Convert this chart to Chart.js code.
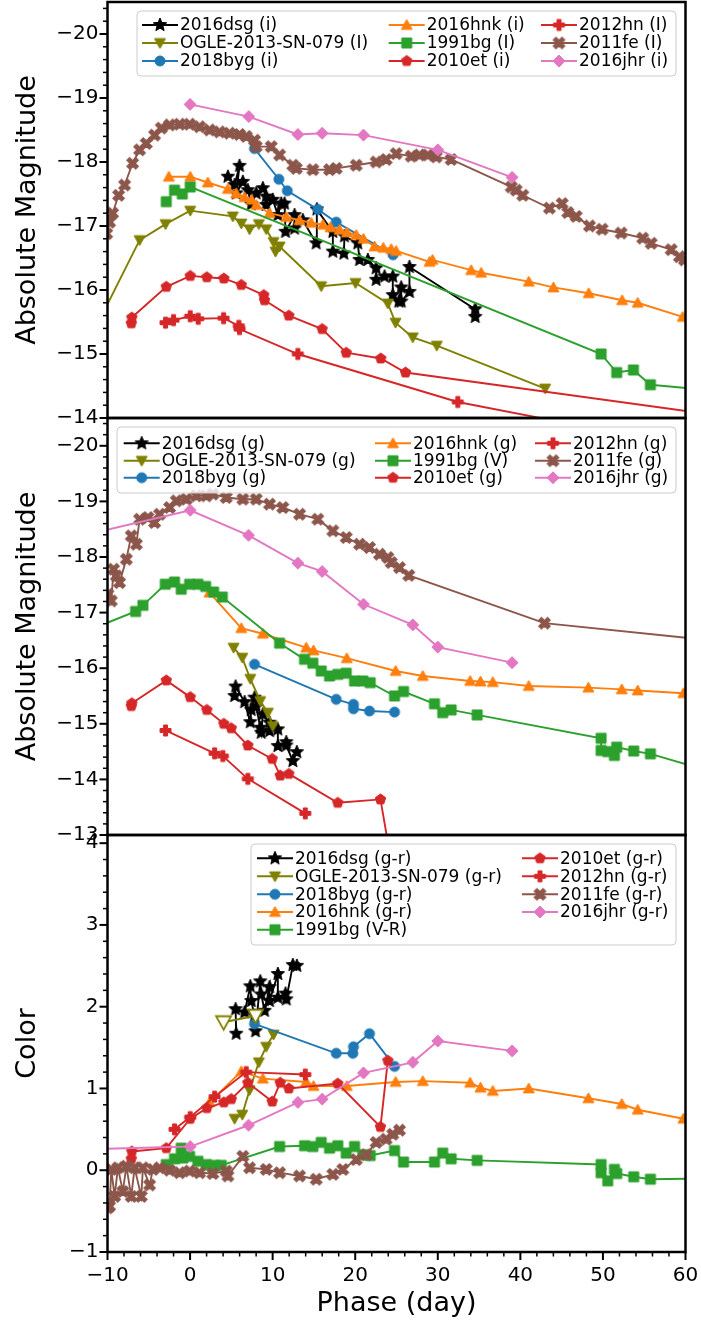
<!DOCTYPE html>
<html>
<head>
<meta charset="utf-8">
<script src="https://cdn.jsdelivr.net/npm/chart.js"></script>
<style>
  body { margin: 0; background: #fff; }
  #wrap { position: relative; width: 701px; height: 1324px; }
  #wrap canvas { position: absolute; left: 0; top: 0; }
</style>
</head>
<body>
<div id="wrap">
  <canvas id="iband" width="701" height="1324"></canvas>
  <canvas id="gband" width="701" height="1324"></canvas>
  <canvas id="color" width="701" height="1324"></canvas>
</div>
<script>
// ---- axis ticks ----
const phaseTicks = [-10, 0, 10, 20, 30, 40, 50, 60];
const magTicksI = [-20, -19, -18, -17, -16, -15, -14];
const magTicksG = [-20, -19, -18, -17, -16, -15, -14, -13];
const colorTicks = [4, 3, 2, 1, 0, -1];

// ---- i / I band light curves [phase, abs mag] ----
const dsg_i = [[4.58,-17.77],[5.39,-17.64],[5.99,-17.94],[5.59,-17.51],[6.39,-17.69],[7.0,-17.56],[7.41,-17.34],[8.01,-17.51],[8.81,-17.59],[9.22,-17.46],[9.22,-17.33],[10.02,-17.41],[10.63,-17.17],[11.04,-17.35],[11.44,-17.35],[11.56,-16.91],[12.65,-17.17],[12.65,-16.96],[13.66,-17.09],[15.28,-16.73],[15.35,-17.26],[17.29,-16.91],[17.29,-16.6],[18.62,-16.57],[18.7,-16.84],[20.31,-16.73],[20.52,-16.47],[21.53,-16.47],[22.54,-16.34],[22.54,-16.16],[23.55,-16.21],[24.55,-16.21],[24.55,-15.92],[25.28,-15.82],[25.57,-16.04],[25.57,-15.82],[26.57,-15.97],[26.57,-16.36],[34.53,-15.7],[34.53,-15.58]];
const ogle_I = [[-11,-15.52],[-6.11,-16.78],[-2.97,-17.03],[0.02,-17.24],[5.18,-17.15],[6.2,-17.04],[7.2,-16.95],[8.33,-17.03],[9.22,-16.95],[10.11,-16.75],[10.35,-16.6],[10.84,-16.68],[15.88,-16.06],[20.04,-16.11],[23.95,-15.79],[24.88,-15.49],[26.97,-15.26],[29.88,-15.13],[43.0,-14.46]];
const byg_i = [[7.8,-18.21],[10.75,-17.73],[11.77,-17.55],[15.47,-17.26],[17.7,-17.06],[24.58,-16.55]];
const hnk_i = [[-2.57,-17.77],[0.02,-17.77],[2.15,-17.68],[4.58,-17.58],[5.59,-17.51],[6.6,-17.45],[7.45,-17.41],[8.01,-17.33],[9.62,-17.2],[11.65,-17.14],[13.26,-17.09],[14.67,-17.05],[16.08,-17.02],[17.0,-16.98],[18.1,-16.94],[19.0,-16.9],[20.12,-16.86],[21.0,-16.8],[22.34,-16.68],[23.4,-16.66],[24.36,-16.64],[24.96,-16.61],[29.0,-16.44],[29.36,-16.47],[34.04,-16.31],[35.25,-16.27],[41.02,-16.13],[44.0,-16.04],[48.28,-15.95],[52.32,-15.84],[54.21,-15.8],[59.66,-15.58]];
const bg_I = [[-2.88,-17.38],[-1.88,-17.56],[-0.94,-17.5],[0.02,-17.61],[49.78,-15.0],[51.67,-14.71],[53.69,-14.75],[55.75,-14.52],[64,-14.42]];
const et_i = [[-7.12,-15.48],[-7.05,-15.57],[-2.88,-16.05],[0.02,-16.22],[2.03,-16.2],[4.09,-16.18],[6.2,-16.08],[8.93,-15.92],[9.02,-15.84],[11.96,-15.6],[16.0,-15.39],[18.91,-15.02],[23.1,-14.93],[26.09,-14.71],[68,-13.97]];
const hn_I = [[-2.97,-15.49],[-2.0,-15.53],[0.02,-15.59],[0.99,-15.55],[4.06,-15.56],[5.91,-15.44],[5.99,-15.39],[13.05,-15.0],[32.42,-14.25],[50,-13.81]];
const fe_I = [[-10.1,-16.88],[-9.75,-17.06],[-9.38,-17.2],[-8.66,-17.48],[-7.93,-17.64],[-6.96,-17.98],[-6.11,-18.19],[-5.3,-18.29],[-4.3,-18.42],[-3.49,-18.53],[-2.48,-18.58],[-1.27,-18.59],[-0.06,-18.59],[1.15,-18.55],[2.36,-18.5],[3.57,-18.47],[4.78,-18.45],[5.99,-18.43],[6.8,-18.4],[7.81,-18.34],[8.01,-18.24],[9.83,-18.24],[10.84,-18.11],[12.45,-17.95],[12.86,-17.9],[14.87,-17.88],[16.89,-17.88],[17.7,-17.9],[20.12,-17.95],[22.54,-18.0],[23.75,-18.04],[24.96,-18.13],[26.78,-18.09],[27.78,-18.11],[28.79,-18.11],[29.81,-18.08],[31.62,-18.04],[38.89,-17.61],[39.49,-17.56],[40.29,-17.48],[43.52,-17.28],[45.06,-17.35],[45.74,-17.21],[46.76,-17.15],[48.37,-17.0],[49.9,-16.95],[52.2,-16.89],[54.82,-16.81],[55.84,-16.73],[58.26,-16.63],[59.26,-16.52],[59.87,-16.47]];
const jhr_i = [[0,-18.9],[7.1,-18.71],[13.05,-18.43],[16.0,-18.45],[21.0,-18.42],[30.0,-18.19],[39.0,-17.76]];

// ---- g / V band light curves ----
const dsg_g = [[5.39,-15.5],[5.51,-15.67],[6.6,-15.39],[7.29,-15.03],[7.41,-15.25],[7.81,-15.47],[8.01,-15.31],[8.5,-14.93],[8.62,-14.84],[8.81,-15.17],[9.62,-15.02],[9.62,-14.87],[10.63,-14.9],[10.63,-14.6],[11.65,-14.67],[11.65,-14.61],[12.45,-14.33],[12.93,-14.49]];
const ogle_g = [[5.27,-16.37],[6.32,-16.19],[7.29,-15.81],[8.5,-15.41],[9.42,-15.2],[10.02,-14.96]];
const byg_g = [[7.81,-16.07],[17.7,-15.44],[19.79,-15.35],[19.79,-15.27],[21.73,-15.23],[24.76,-15.21]];
const hnk_g = [[2.36,-17.36],[6.2,-16.72],[8.81,-16.62],[14.07,-16.37],[14.95,-16.32],[18.98,-16.18],[24.9,-15.95],[28.18,-15.86],[33.92,-15.77],[35.17,-15.76],[36.66,-15.75],[41.02,-15.68],[48.24,-15.65],[52.28,-15.62],[54.21,-15.6],[59.75,-15.55]];
const bg_V = [[-12,-16.7],[-6.6,-17.02],[-5.71,-17.13],[-3.0,-17.51],[-1.88,-17.55],[-1.07,-17.42],[-0.06,-17.51],[0.94,-17.51],[1.88,-17.47],[2.85,-17.37],[3.9,-17.28],[10.84,-16.45],[13.86,-16.16],[14.87,-16.09],[15.88,-15.95],[16.89,-15.86],[17.89,-15.89],[18.91,-15.91],[19.92,-15.77],[20.92,-15.77],[21.82,-15.74],[24.76,-15.5],[25.85,-15.58],[29.6,-15.36],[30.6,-15.2],[31.62,-15.25],[34.77,-15.16],[49.78,-14.74],[49.78,-14.52],[50.58,-14.5],[51.39,-14.43],[51.67,-14.58],[53.73,-14.51],[55.75,-14.46],[64,-14.1]];
const et_g = [[-7.12,-15.32],[-7.05,-15.37],[-2.88,-15.78],[0.02,-15.48],[2.03,-15.25],[4.09,-15.0],[4.99,-14.92],[7.0,-14.61],[9.95,-14.37],[10.92,-14.07],[11.96,-14.1],[17.89,-13.58],[23.06,-13.64],[25.0,-11.97]];
const hn_g = [[-2.97,-14.88],[2.97,-14.47],[3.97,-14.42],[7.0,-14.01],[13.95,-13.39]];
const fe_g = [[-9.95,-17.33],[-9.54,-17.21],[-9.26,-17.78],[-8.93,-17.66],[-8.54,-17.54],[-7.72,-17.96],[-7.12,-18.38],[-6.51,-18.23],[-6.11,-18.68],[-5.11,-18.71],[-4.3,-18.62],[-3.69,-18.77],[-2.48,-18.89],[-1.67,-19.01],[-0.46,-19.04],[0.75,-19.1],[1.96,-19.1],[2.76,-19.13],[4.38,-19.07],[6.39,-19.04],[8.01,-19.04],[9.62,-18.95],[11.23,-18.89],[13.26,-18.77],[15.47,-18.68],[17.29,-18.47],[18.91,-18.35],[20.52,-18.23],[21.73,-18.17],[22.94,-18.05],[23.95,-17.99],[24.36,-17.9],[25.36,-17.81],[26.49,-17.67],[42.92,-16.81],[75,-16.32]];
const jhr_g = [[-15,-18.32],[0.02,-18.84],[7.08,-18.39],[13.05,-17.89],[16.0,-17.74],[21.0,-17.15],[26.97,-16.78],[30.0,-16.38],[39.0,-16.1]];

// ---- colours ----
const dsg_gr = [[5.59,1.67],[5.51,1.97],[6.6,1.93],[7.29,2.25],[7.41,2.07],[7.81,1.89],[7.93,1.7],[8.5,2.31],[8.62,2.15],[9.02,1.95],[9.62,2.24],[9.62,2.07],[10.63,2.4],[10.63,2.11],[11.56,2.16],[11.65,2.09],[12.45,2.51],[12.93,2.5]];
const ogle_gr = [[5.39,0.63],[6.32,0.68],[7.2,0.98],[8.33,1.32],[9.22,1.51],[10.11,1.66]];
const ogle_gr_early = [[4.06,1.81],[7.93,1.89]];
const byg_gr = [[7.81,1.79],[17.7,1.43],[19.71,1.43],[19.79,1.51],[21.73,1.67],[24.76,1.27]];
const hnk_gr = [[2.36,0.83],[6.2,1.21],[8.81,1.12],[14.07,1.08],[14.95,1.03],[18.98,1.03],[24.9,1.08],[28.18,1.09],[33.92,1.07],[35.17,1.01],[36.66,0.97],[41.02,1.0],[48.24,0.88],[52.28,0.81],[54.21,0.74],[59.75,0.63]];
const bg_VR = [[-2.88,0.07],[-1.88,0.14],[-1.07,0.27],[-0.87,0.15],[-0.06,0.17],[0.94,0.11],[1.96,0.07],[2.97,0.06],[3.78,0.06],[10.84,0.29],[13.86,0.3],[14.87,0.29],[15.88,0.34],[16.89,0.27],[17.89,0.3],[18.91,0.21],[19.92,0.29],[20.92,0.19],[21.82,0.18],[24.76,0.24],[25.85,0.1],[29.6,0.1],[30.6,0.21],[31.62,0.14],[34.77,0.12],[49.78,0.07],[49.78,-0.03],[50.58,-0.13],[51.39,0.01],[51.67,-0.04],[53.73,-0.08],[55.75,-0.11],[64,-0.1]];
const et_gr = [[-7.12,0.14],[-7.05,0.23],[-2.88,0.27],[0.02,0.63],[2.03,0.76],[4.09,0.83],[4.99,0.87],[7.0,1.07],[9.95,0.84],[10.92,1.07],[11.96,1.0],[17.89,1.06],[23.06,0.53],[23.95,1.34]];
const hn_gr = [[-1.88,0.5],[0.02,0.65],[2.97,0.9],[6.8,1.2],[13.95,1.17]];
const fe_gr = [[-9.99,-0.46],[-9.75,-0.44],[-9.54,0.01],[-9.14,-0.32],[-8.74,0.03],[-8.14,-0.26],[-7.72,0.05],[-7.12,-0.32],[-6.72,0.03],[-5.91,-0.32],[-5.71,0.03],[-4.9,-0.18],[-4.5,0.01],[-3.69,0.03],[-2.48,0.0],[-1.27,-0.03],[-0.06,-0.01],[1.15,-0.03],[2.76,-0.04],[4.38,-0.01],[4.58,-0.07],[6.39,0.17],[7.2,0.03],[9.22,0.01],[10.84,-0.03],[13.26,-0.07],[15.28,-0.11],[17.29,-0.05],[18.5,0.01],[20.12,0.13],[21.33,0.19],[22.54,0.34],[23.75,0.38],[24.55,0.44],[25.36,0.49]];
const jhr_gr = [[-15,0.25],[0.02,0.29],[7.08,0.55],[13.05,0.83],[16.0,0.87],[21.0,1.19],[26.97,1.32],[30.0,1.58],[39.0,1.46]];

Chart.defaults.font.family = '"DejaVu Sans"';
Chart.defaults.color = '#000';

const BLACK = '#000000', OLIVE = '#808000', BLUE = '#1f77b4', ORANGE = '#ff7f0e',
      GREEN = '#2ca02c', RED = '#d62728', BROWN = '#8c564b', PINK = '#e377c2';

// marker sprites, drawn once and handed to Chart.js as pointStyle
const spriteCache = {};
function marker(shape, color, size, face) {
  const key = shape + color + size + (face || '');
  if (spriteCache[key]) return spriteCache[key];
  const n = Math.ceil(size + 4);
  const c = document.createElement('canvas');
  c.width = n; c.height = n;
  const g = c.getContext('2d');
  const r = size / 2;
  g.translate(n / 2, n / 2);
  g.beginPath();
  if (shape === 'circle') {
    g.arc(0, 0, r, 0, Math.PI * 2);
  } else if (shape === 'square') {
    g.rect(-r, -r, size, size);
  } else if (shape === 'diamond') {
    g.moveTo(0, -r); g.lineTo(r, 0); g.lineTo(0, r); g.lineTo(-r, 0); g.closePath();
  } else if (shape === 'tri') {
    g.moveTo(0, -r); g.lineTo(r, r * 0.8); g.lineTo(-r, r * 0.8); g.closePath();
  } else if (shape === 'tridown') {
    g.moveTo(0, r); g.lineTo(r, -r * 0.8); g.lineTo(-r, -r * 0.8); g.closePath();
  } else if (shape === 'star' || shape === 'pentagon') {
    const k = shape === 'star' ? 10 : 5;
    for (let j = 0; j < k; j++) {
      const rr = shape === 'star' && j % 2 ? r * 0.45 : r;
      const a = -Math.PI / 2 + j * Math.PI * 2 / k;
      g.lineTo(rr * Math.cos(a), rr * Math.sin(a));
    }
    g.closePath();
  } else if (shape === 'plus' || shape === 'x') {
    if (shape === 'x') g.rotate(Math.PI / 4);
    const w = r * 0.36, L = shape === 'x' ? r * 1.15 : r;
    const pts = [[-w,-L],[w,-L],[w,-w],[L,-w],[L,w],[w,w],[w,L],[-w,L],[-w,w],[-L,w],[-L,-w],[-w,-w]];
    pts.forEach(p => g.lineTo(p[0], p[1]));
    g.closePath();
  }
  g.fillStyle = face || color;
  g.fill();
  g.strokeStyle = color;
  g.lineWidth = face ? 1.8 : 1;
  g.stroke();
  spriteCache[key] = c;
  return c;
}

function series(label, pts, color, mark) {
  return {
    label: label,
    data: pts.map(p => ({ x: p[0], y: p[1] })),
    showLine: true,
    borderColor: color,
    backgroundColor: color,
    borderWidth: 1.9,
    pointStyle: mark,
    pointRadius: mark.width / 2 - 1,
    pointHoverRadius: mark.width / 2 - 1
  };
}

function ordered(list) {
  // later series sit on top, as in the legend order
  list.forEach((d, i) => { d.order = -i; });
  return list;
}

const minus = v => String(v).replace('-', '\u2212');

// frame, major/minor tick marks
const frameTicks = {
  id: 'frameTicks',
  afterDraw(chart) {
    const { ctx, chartArea: a, scales } = chart;
    const y = scales.y, x = scales.x;
    ctx.save();
    ctx.strokeStyle = '#000';
    for (let k = Math.ceil(y.min * 5 - 1e-6); k <= Math.floor(y.max * 5 + 1e-6); k++) {
      const p = y.getPixelForValue(k / 5);
      const major = k % 5 === 0;
      ctx.lineWidth = major ? 2 : 1.5;
      ctx.beginPath();
      ctx.moveTo(a.left - (major ? 8 : 4.5), p);
      ctx.lineTo(a.left, p);
      ctx.stroke();
    }
    if (x.options.display) {
      for (let k = Math.ceil(x.min / 2); k <= Math.floor(x.max / 2); k++) {
        const p = x.getPixelForValue(k * 2);
        const major = k % 5 === 0;
        ctx.lineWidth = major ? 2 : 1.5;
        ctx.beginPath();
        ctx.moveTo(p, a.bottom);
        ctx.lineTo(p, a.bottom + (major ? 8 : 4.5));
        ctx.stroke();
      }
    }
    ctx.lineWidth = 2.5;
    ctx.strokeRect(a.left, a.top, a.right - a.left, a.bottom - a.top);
    ctx.restore();
  }
};

// column-major legend box
const boxLegend = {
  id: 'boxLegend',
  afterDraw(chart, args, opts) {
    const ctx = chart.ctx;
    const [bx, by, bw, bh] = opts.box;
    ctx.save();
    ctx.beginPath();
    if (ctx.roundRect) ctx.roundRect(bx, by, bw, bh, 4); else ctx.rect(bx, by, bw, bh);
    ctx.fillStyle = 'rgba(255,255,255,0.8)';
    ctx.fill();
    ctx.strokeStyle = '#cccccc';
    ctx.lineWidth = 1;
    ctx.stroke();
    ctx.font = '17px "DejaVu Sans"';
    ctx.textBaseline = 'middle';
    opts.items.forEach(([i, col, row]) => {
      const ds = chart.data.datasets[i];
      const x0 = opts.cols[col], yy = opts.rows[row];
      ctx.strokeStyle = ds.borderColor;
      ctx.lineWidth = ds.borderWidth;
      ctx.beginPath();
      ctx.moveTo(x0, yy);
      ctx.lineTo(x0 + 36, yy);
      ctx.stroke();
      const m = ds.pointStyle;
      ctx.drawImage(m, x0 + 18 - m.width / 2, yy - m.height / 2);
      ctx.fillStyle = '#000';
      ctx.fillText(ds.label, x0 + 38, yy + 1);
    });
    ctx.restore();
  }
};

function panel(id, datasets, cfg) {
  return new Chart(id, {
    type: 'scatter',
    data: { datasets: datasets },
    options: {
      responsive: false,
      animation: false,
      devicePixelRatio: 1,
      layout: { autoPadding: false, padding: { left: 0, right: 15.5, top: cfg.top, bottom: cfg.bottom } },
      plugins: { legend: { display: false }, tooltip: { enabled: false }, boxLegend: cfg.legend },
      scales: {
        x: {
          type: 'linear', min: -10, max: 60,
          display: cfg.showX,
          grid: { display: false, drawTicks: false },
          border: { display: false },
          ticks: { font: { size: 20 }, padding: 12, maxRotation: 0, callback: minus },
          afterBuildTicks: s => { s.ticks = phaseTicks.map(v => ({ value: v })); },
          afterFit: s => {
            s.height = cfg.showX ? 72 : 0;
            s.paddingLeft = 0; s.paddingRight = 0; s.paddingTop = 0; s.paddingBottom = 0;
          },
          title: { display: true, text: 'Phase (day)', font: { size: 27 }, padding: { top: 0, bottom: 4 } }
        },
        y: {
          type: 'linear', min: cfg.yMin, max: cfg.yMax, reverse: cfg.reverse,
          grid: { display: false, drawTicks: false },
          border: { display: false },
          ticks: { font: { size: 20 }, padding: 9, callback: minus },
          afterBuildTicks: s => { s.ticks = cfg.yTicks.map(v => ({ value: v })); },
          afterFit: s => { s.width = 107.5; s.paddingTop = 0; s.paddingBottom = 0; },
          title: { display: true, text: cfg.yTitle, font: { size: 27 }, padding: { top: 12, bottom: 0 } }
        }
      }
    },
    plugins: [frameTicks, boxLegend]
  });
}

// i band
panel('iband', ordered([
  series('2016dsg (i)', dsg_i, BLACK, marker('star', BLACK, 14)),
  series('OGLE-2013-SN-079 (I)', ogle_I, OLIVE, marker('tridown', OLIVE, 11)),
  series('2018byg (i)', byg_i, BLUE, marker('circle', BLUE, 10)),
  series('2016hnk (i)', hnk_i, ORANGE, marker('tri', ORANGE, 11)),
  series('1991bg (I)', bg_I, GREEN, marker('square', GREEN, 10)),
  series('2010et (i)', et_i, RED, marker('pentagon', RED, 11)),
  series('2012hn (I)', hn_I, RED, marker('plus', RED, 11)),
  series('2011fe (I)', fe_I, BROWN, marker('x', BROWN, 11)),
  series('2016jhr (i)', jhr_i, PINK, marker('diamond', PINK, 12))
]), {
  top: 2, bottom: 906, yMin: -20.5, yMax: -14, reverse: true, yTicks: magTicksI,
  yTitle: 'Absolute Magnitude', showX: false,
  legend: {
    box: [137, 11, 539, 65], rows: [25, 43, 61], cols: [142, 388.7, 541],
    items: [[0,0,0],[1,0,1],[2,0,2],[3,1,0],[4,1,1],[5,1,2],[6,2,0],[7,2,1],[8,2,2]]
  }
});

// g / V band
panel('gband', ordered([
  series('2016dsg (g)', dsg_g, BLACK, marker('star', BLACK, 14)),
  series('OGLE-2013-SN-079 (g)', ogle_g, OLIVE, marker('tridown', OLIVE, 11)),
  series('2018byg (g)', byg_g, BLUE, marker('circle', BLUE, 10)),
  series('2016hnk (g)', hnk_g, ORANGE, marker('tri', ORANGE, 11)),
  series('1991bg (V)', bg_V, GREEN, marker('square', GREEN, 10)),
  series('2010et (g)', et_g, RED, marker('pentagon', RED, 11)),
  series('2012hn (g)', hn_g, RED, marker('plus', RED, 11)),
  series('2011fe (g)', fe_g, BROWN, marker('x', BROWN, 11)),
  series('2016jhr (g)', jhr_g, PINK, marker('diamond', PINK, 12))
]), {
  top: 418, bottom: 489, yMin: -20.5, yMax: -13, reverse: true, yTicks: magTicksG,
  yTitle: 'Absolute Magnitude', showX: false,
  legend: {
    box: [117, 427, 559, 66], rows: [443.3, 460.7, 477.7], cols: [123.7, 375, 535],
    items: [[0,0,0],[1,0,1],[2,0,2],[3,1,0],[4,1,1],[5,1,2],[6,2,0],[7,2,1],[8,2,2]]
  }
});

// colour curves
const colorSets = ordered([
  series('2016dsg (g-r)', dsg_gr, BLACK, marker('star', BLACK, 14)),
  series('OGLE-2013-SN-079 (g-r)', ogle_gr, OLIVE, marker('tridown', OLIVE, 11)),
  series('2018byg (g-r)', byg_gr, BLUE, marker('circle', BLUE, 10)),
  series('2016hnk (g-r)', hnk_gr, ORANGE, marker('tri', ORANGE, 11)),
  series('1991bg (V-R)', bg_VR, GREEN, marker('square', GREEN, 10)),
  series('2010et (g-r)', et_gr, RED, marker('pentagon', RED, 11)),
  series('2012hn (g-r)', hn_gr, RED, marker('plus', RED, 11)),
  series('2011fe (g-r)', fe_gr, BROWN, marker('x', BROWN, 11)),
  series('2016jhr (g-r)', jhr_gr, PINK, marker('diamond', PINK, 12)),
  series('OGLE-2013-SN-079 early', ogle_gr_early, OLIVE, marker('tridown', OLIVE, 15, '#ffffff'))
]);
panel('color', colorSets, {
  top: 835, bottom: 0, yMin: -1, yMax: 4.1, reverse: false, yTicks: colorTicks,
  yTitle: 'Color', showX: true,
  legend: {
    box: [251, 844, 425, 101], rows: [858.3, 876.3, 894.3, 912, 929.7], cols: [257, 522],
    items: [[0,0,0],[1,0,1],[2,0,2],[3,0,3],[4,0,4],[5,1,0],[6,1,1],[7,1,2],[8,1,3]]
  }
});
</script>
</body>
</html>
